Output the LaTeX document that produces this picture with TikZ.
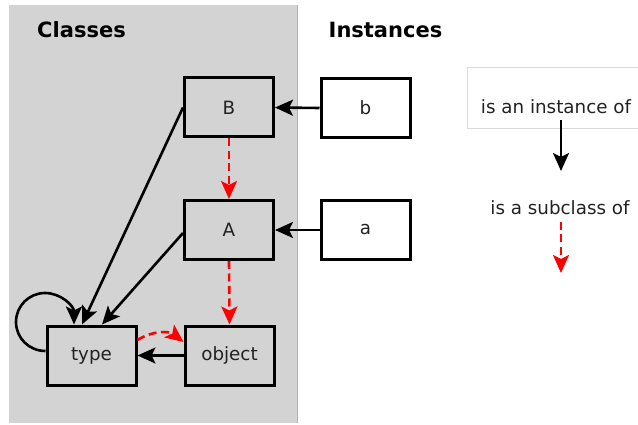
\documentclass[tikz,border=0pt]{standalone}
\usepackage{fontspec}
\setmainfont{DejaVu Sans}
\usetikzlibrary{arrows.meta}
\definecolor{bggray}{RGB}{211,211,211}
\definecolor{txt}{RGB}{34,34,34}
\begin{document}
\begin{tikzpicture}[x=1pt,y=-1pt,
  box/.style={draw=black,line width=3pt,minimum width=89pt,minimum height=59pt,inner sep=0pt,
    font=\fontsize{18.3}{20}\selectfont,text=txt},
  clsbox/.style={box,fill=bggray},
  instbox/.style={box,fill=white},
  title/.style={font=\fontsize{21}{24}\selectfont\bfseries,text=black,inner sep=0pt},
  legend/.style={font=\fontsize{18.3}{20}\selectfont,text=txt,inner sep=0pt},
  tip/.style={-{Stealth[length=18pt,width=16pt,inset=4pt]}},
  inst/.style={tip,draw=black,line width=2.6pt},
  sub/.style={tip,draw=red,line width=2.6pt,dash pattern=on 8pt off 4.5pt}
]
\useasboundingbox (0,0) rectangle (638,425);
\fill[bggray] (9,5) rectangle (297,423);
\draw[black!30,line width=0.6pt] (297,5) -- (297,423);

\node[title] (cls) at (81.5,30) {Classes};
\node[title] (ins) at (385.5,30) {Instances};

\node[clsbox] (B) at (229,107.5) {B};
\node[clsbox] (A) at (229,230) {A};
\node[clsbox] (type) at (91.5,355.5) {type};
\node[clsbox] (object) at (229.5,355.5) {object};
\node[instbox] (b) at (365.5,108) {b};
\node[instbox] (a) at (365.5,230) {a};

\draw[inst] (b.west) -- (B.east);
\draw[inst] (a.west) -- (A.east);
\draw[inst] (object.west) -- (type.east);
\draw[inst] (B.west) -- ([xshift=-9.5pt]type.north);
\draw[inst] ([yshift=-3pt]A.west) -- ([xshift=10.5pt]type.north);
\draw[inst] ([yshift=4.5pt]type.west) .. controls (29,351) and (16,338) .. (16,322)
   .. controls (16,306) and (29,293) .. (45,293)
   .. controls (61,293) and (74,306) .. ([xshift=-17.5pt]type.north);

\draw[sub] (B.south) -- (A.north);
\draw[sub] (A.south) -- (object.north);
\draw[sub] ([yshift=15.5pt]type.east) to[bend left=35] ([yshift=13.5pt]object.west);

% legend
\draw[black!15,line width=0.8pt] (645,67) -- (467,67) -- (467,128) -- (645,128);
\node[legend] (l1) at (556,107) {is an instance of};
\node[legend] (l2) at (560,208) {is a subclass of};
\coordinate (i1) at (561,120);
\coordinate (i2) at (561,171);
\coordinate (s1) at (561,222);
\coordinate (s2) at (561,273);
\draw[inst] (i1) -- (i2);
\draw[sub] (s1) -- (s2);
\end{tikzpicture}
\end{document}
